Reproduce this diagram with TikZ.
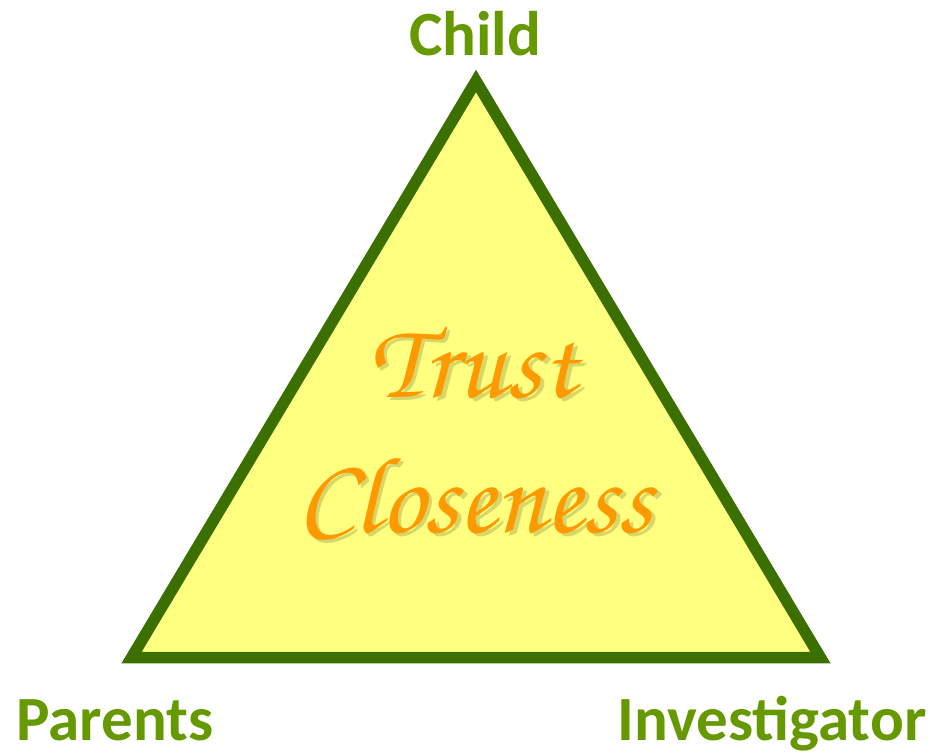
\documentclass[tikz,border=0pt]{standalone}
\usepackage{fontspec}
\setmainfont{Carlito}
\definecolor{edgegreen}{HTML}{3B7000}
\definecolor{labelgreen}{HTML}{669900}
\definecolor{paleyellow}{HTML}{FFFF80}
\definecolor{trustorange}{HTML}{FF9900}
\definecolor{shadowolive}{HTML}{8A8A40}
\newcommand{\trustfont}{\usefont{T1}{pzc}{mb}{it}}
\tikzset{
  corner/.style={font=\bfseries\fontsize{63}{70}\selectfont, text=labelgreen, inner sep=0pt, anchor=base},
  word/.style={font=\trustfont\fontsize{109}{110}\selectfont, text=trustorange, inner sep=0pt, anchor=base},
  wordshadow/.style={font=\trustfont\fontsize{109}{110}\selectfont, text=shadowolive, opacity=0.35, inner sep=0pt, anchor=base},
}
\begin{document}
\begin{tikzpicture}[x=1pt,y=-1pt]
  \useasboundingbox (0,0) rectangle (935,753);
  % the triangle
  \coordinate (apex) at (476,81);
  \coordinate (bl) at (131.6,657.5);
  \coordinate (br) at (820.4,657.5);
  \draw[edgegreen, line width=11.5pt, line join=miter, fill=paleyellow]
    (apex) -- (bl) -- (br) -- cycle;
  % centre words with a soft drop shadow
  \node[wordshadow] (trustS) at (476.5,400.5) {Trust};
  \node[wordshadow] (closeS) at (478.5,535.5) {Closeness};
  \node[word] (trust) at (473,397) {Trust};
  \node[word] (close) at (475,532) {Closeness};
  % corner labels
  \node[corner] (child) at (475,55) {Child};
  \node[corner] (parents) at (115,740) {Parents};
  \node[corner] (invest) at (772,740) {Investigator};
\end{tikzpicture}
\end{document}
